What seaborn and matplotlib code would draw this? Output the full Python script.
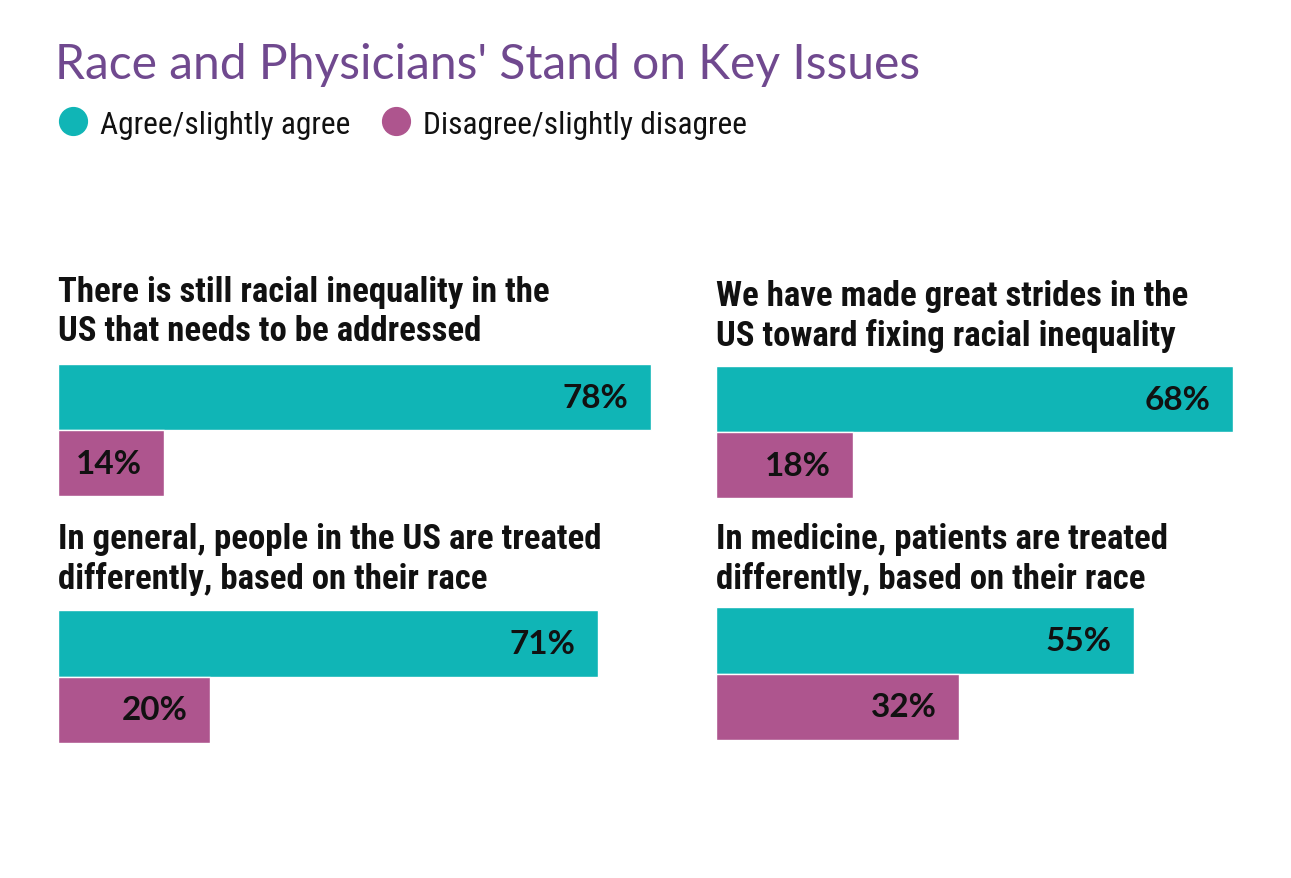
import numpy as np
import pandas as pd
import matplotlib.pyplot as plt
import seaborn as sns
from matplotlib.lines import Line2D

sns.set_style("white")

# data
responses = ["Agree/slightly agree", "Disagree/slightly disagree"]
statements = [
    "There is still racial inequality in the\nUS that needs to be addressed",
    "We have made great strides in the\nUS toward fixing racial inequality",
    "In general, people in the US are treated\ndifferently, based on their race",
    "In medicine, patients are treated\ndifferently, based on their race",
]
agree_pct = [78, 68, 71, 55]
disagree_pct = [14, 18, 20, 32]

teal = "#10b5b6"
purple = "#ae558e"
title_purple = "#70498f"
palette = {responses[0]: teal, responses[1]: purple}

W, H = 1291, 879
fig = plt.figure(figsize=(W / 100, H / 100), dpi=100)

narrow = ["Roboto Condensed", "DejaVu Sans"]
pct_font = ["Lato", "DejaVu Sans"]

# panel boxes in pixels: left, top of bars, bars height, title top
panels = [
    (58, 365, 132, 276),
    (716, 367, 132, 280),
    (58, 611, 133, 523),
    (716, 608, 133, 523),
]
px_per_pct = 7.6
xmax = 80

for i, (left, top, hgt, ttop) in enumerate(panels):
    ax = fig.add_axes([left / W, 1 - (top + hgt) / H,
                       xmax * px_per_pct / W, hgt / H])
    df = pd.DataFrame({"response": responses,
                       "pct": [agree_pct[i], disagree_pct[i]]})
    sns.barplot(data=df, x="pct", y="response", hue="response",
                palette=palette, width=1.0, dodge=False, orient="h",
                legend=False, saturation=1, ax=ax)
    ax.set_xlim(0, xmax)
    ax.set_ylim(1.5, -0.5)
    ax.axis("off")
    for j, v in enumerate(df["pct"]):
        ax.annotate(f"{v}%", xy=(v, j), xytext=(-16, 0),
                    textcoords="offset points", ha="right", va="center",
                    fontsize=24, fontweight="bold", family=pct_font,
                    color="#111111")
    fig.text(left / W, 1 - ttop / H, statements[i], ha="left", va="top",
             fontsize=25, fontweight="bold", fontstretch="condensed",
             family=narrow, color="#111111", linespacing=1.22)

fig.text(55 / W, 1 - 79 / H, "Race and Physicians' Stand on Key Issues",
         ha="left", va="baseline", fontsize=34.6, fontweight="normal",
         family=["Lato", "DejaVu Sans"], color=title_purple)

handles = [Line2D([], [], marker="o", linestyle="none", markersize=20,
                  markerfacecolor=palette[r], markeredgecolor=palette[r])
           for r in responses]
fig.legend(handles, responses, loc="center left",
           bbox_to_anchor=(26 / W, 1 - 125 / H), ncol=2, frameon=False,
           handletextpad=0.25, columnspacing=0.85, handlelength=1.2,
           labelcolor="#111111",
           prop={"family": narrow, "size": 22.7, "stretch": "condensed"})

fig.savefig("out.png", dpi=100)
